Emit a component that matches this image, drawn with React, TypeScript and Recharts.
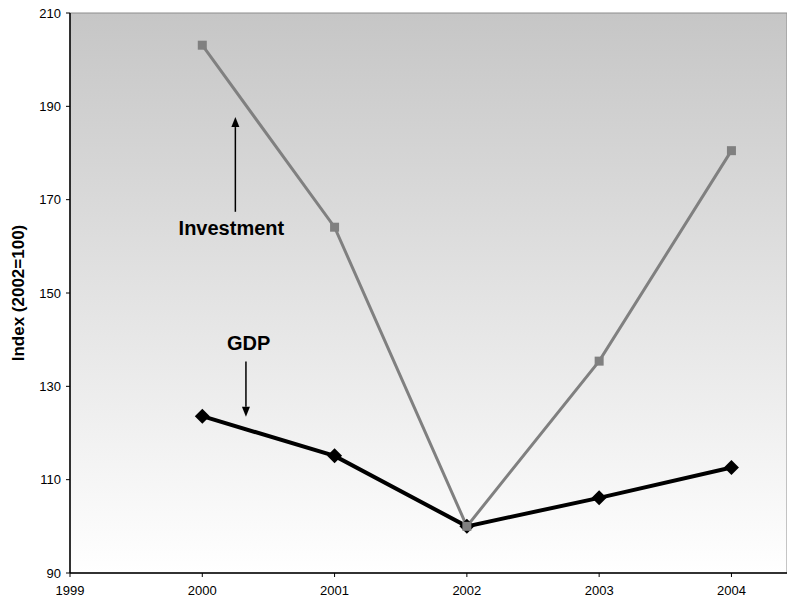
import React from 'react';
import { LineChart, Line, XAxis, YAxis, ReferenceArea, ReferenceLine, ReferenceDot } from 'recharts';

const years = [2000, 2001, 2002, 2003, 2004];
const investment = [203.1, 164.1, 100, 135.4, 180.5];
const gdp = [123.6, 115.1, 100, 106.1, 112.6];
const xTicks = [1999, 2000, 2001, 2002, 2003, 2004];
const yTicks = [90, 110, 130, 150, 170, 190, 210];
const xDomain = [1999, 2004.42];
const yDomain = [90, 210];

const annotations = [
  { label: 'Investment', x: 2000.25, from: 167.4, to: 187.7, textX: 2000.22, textY: 163.9 },
  { label: 'GDP', x: 2000.33, from: 135.3, to: 123.5, textX: 2000.35, textY: 139.3 },
];

const data = years.map((y, i) => ({ year: y, investment: investment[i], gdp: gdp[i] }));

const FONT = '"Liberation Sans", Arial, sans-serif';

const Square = (props: any) => {
  const { cx, cy } = props;
  if (cx == null || cy == null) return null;
  return <rect x={cx - 4.5} y={cy - 4.5} width={9} height={9} fill="#808080" />;
};

const Diamond = (props: any) => {
  const { cx, cy } = props;
  if (cx == null || cy == null) return null;
  const r = 7.5;
  return <polygon points={`${cx},${cy - r} ${cx + r},${cy} ${cx},${cy + r} ${cx - r},${cy}`} fill="#000" />;
};

const Arrow = (props: any) => {
  const { x1, y1, x2, y2 } = props;
  if ([x1, y1, x2, y2].some((v) => v == null)) return null;
  const dir = y2 < y1 ? 1 : -1;
  const headLen = 10;
  const headW = 4;
  return (
    <g>
      <line x1={x1} y1={y1} x2={x2} y2={y2 + dir * headLen} stroke="#000" strokeWidth={1.5} />
      <polygon
        points={`${x2},${y2} ${x2 - headW},${y2 + dir * headLen} ${x2 + headW},${y2 + dir * headLen}`}
        fill="#000"
      />
    </g>
  );
};

const makeText = (label: string) => (props: any) => {
  const { cx, cy } = props;
  if (cx == null || cy == null) return null;
  return (
    <text x={cx} y={cy} textAnchor="middle" dominantBaseline="central" fontFamily={FONT} fontWeight="bold" fontSize={20} fill="#000">
      {label}
    </text>
  );
};

const YLabel = (props: any) => {
  const vb = props.viewBox || {};
  const x = (vb.x ?? 0) + 18;
  const y = (vb.y ?? 0) + (vb.height ?? 0) / 2;
  return (
    <text x={x} y={y} transform={`rotate(-90, ${x}, ${y})`} textAnchor="middle" dominantBaseline="central" fontFamily={FONT} fontWeight="bold" fontSize={17} fill="#000">
      Index (2002=100)
    </text>
  );
};

export default function App() {
  return (
    <div style={{ position: 'absolute', left: 0, top: 0, background: '#fff' }}>
      <LineChart width={787} height={603} data={data} margin={{ top: 13, right: 0, bottom: 0, left: 0 }}>
        <defs>
          <linearGradient id="bgGrad" x1="0" y1="0" x2="0" y2="1">
            <stop offset="0%" stopColor="#c6c6c6" />
            <stop offset="100%" stopColor="#ffffff" />
          </linearGradient>
        </defs>
        <XAxis
          type="number"
          dataKey="year"
          domain={xDomain}
          ticks={xTicks}
          allowDataOverflow
          interval={0}
          height={30}
          tickSize={4}
          tickMargin={9}
          axisLine={{ stroke: '#000', strokeWidth: 1.5 }}
          tickLine={{ stroke: '#000' }}
          tick={{ fill: '#000', fontSize: 13, fontFamily: FONT }}
        />
        <YAxis
          type="number"
          domain={yDomain}
          ticks={yTicks}
          allowDataOverflow
          interval={0}
          width={70}
          tickSize={4}
          tickMargin={5}
          axisLine={{ stroke: '#000', strokeWidth: 1.5 }}
          tickLine={{ stroke: '#000' }}
          tick={{ fill: '#000', fontSize: 13, fontFamily: FONT }}
          label={<YLabel />}
        />
        <ReferenceArea
          x1={xDomain[0]}
          x2={xDomain[1]}
          y1={yDomain[0]}
          y2={yDomain[1]}
          fill="url(#bgGrad)"
          fillOpacity={1}
          stroke="#8c8c8c"
          strokeWidth={1}
          ifOverflow="visible"
        />
        {annotations.map((a) => (
          <ReferenceLine
            key={a.label + '-arrow'}
            segment={[{ x: a.x, y: a.from }, { x: a.x, y: a.to }]}
            shape={<Arrow />}
            ifOverflow="visible"
          />
        ))}
        {annotations.map((a) => (
          <ReferenceDot
            key={a.label + '-text'}
            x={a.textX}
            y={a.textY}
            r={0}
            shape={makeText(a.label)}
            ifOverflow="visible"
          />
        ))}
        <Line
          type="linear"
          dataKey="gdp"
          stroke="#000"
          strokeWidth={4}
          dot={<Diamond />}
          activeDot={false}
          isAnimationActive={false}
        />
        <Line
          type="linear"
          dataKey="investment"
          stroke="#808080"
          strokeWidth={3}
          dot={<Square />}
          activeDot={false}
          isAnimationActive={false}
        />
      </LineChart>
    </div>
  );
}
